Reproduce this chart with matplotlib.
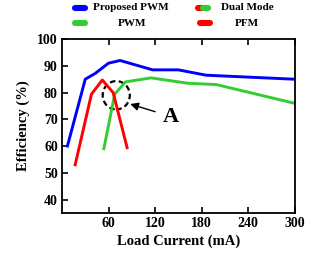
import matplotlib
matplotlib.use("Agg")
import matplotlib.pyplot as plt
from matplotlib.patches import Ellipse
from matplotlib.lines import Line2D

# Data
prop_x = [7, 30, 43, 60, 75, 117, 150, 186, 300]
prop_y = [60, 85, 87.2, 91, 92, 88.5, 88.5, 86.5, 85]
pwm_x = [54, 68, 82, 115, 162, 199, 300]
pwm_y = [59, 79.4, 84, 85.5, 83.5, 83, 76]
pfm_x = [17, 38, 52, 66, 84]
pfm_y = [53, 79.4, 84.7, 80, 59.4]
xticks = [60, 120, 180, 240, 300]
yticks = [40, 50, 60, 70, 80, 90, 100]

plt.rcParams['font.family'] = ['Liberation Serif', 'DejaVu Serif']
plt.rcParams['font.weight'] = 'bold'

W, H = 310, 259
fig = plt.figure(figsize=(3.1, 2.59), dpi=100)
ax = fig.add_axes([0.2, 0.178, 0.75, 0.671])

blue = '#0000ff'
green = '#33cc33'
red = '#ff0000'
ax.plot(prop_x, prop_y, color=blue, lw=2.1)
ax.plot(pwm_x, pwm_y, color=green, lw=2.1)
ax.plot(pfm_x, pfm_y, color=red, lw=2.1)

ax.set_xlim(0, 300)
ax.set_ylim(35, 100)
ax.set_xticks(xticks)
ax.set_yticks(yticks)
ax.tick_params(direction='in', length=4, width=1.2, labelsize=10, top=True, pad=3)
for lab in ax.get_xticklabels() + ax.get_yticklabels():
    lab.set_fontweight('bold')
for s in ax.spines.values():
    s.set_linewidth(1.3)

ax.set_xlabel('Load Current (mA)', fontsize=10.5, fontweight='bold', labelpad=3)
ax.set_ylabel('Efficiency (%)', fontsize=10.5, fontweight='bold', labelpad=5)

# dashed ellipse annotation
ax.add_patch(Ellipse((70, 79), 35, 10.6, fill=False, ls=(0, (2.5, 1.5)), lw=1.6, color='black'))
ax.annotate('A', xy=(88, 75.7), xytext=(141, 71), fontsize=16, fontweight='bold',
            ha='center', va='center',
            arrowprops=dict(arrowstyle='-|>', color='black', lw=1, mutation_scale=12,
                            shrinkA=4, shrinkB=0))

# custom legend (pill markers)
def pill(xc, yc, colors):
    half = 5
    if len(colors) == 1:
        segs = [(xc - half, xc + half, colors[0])]
    else:
        segs = [(xc - half, xc, colors[0]), (xc, xc + half, colors[1])]
    for x0, x1, c in segs:
        fig.add_artist(Line2D([x0 / W, x1 / W], [1 - yc / H, 1 - yc / H], transform=fig.transFigure,
                              color=c, lw=4.4, solid_capstyle='round'))

pill(80, 8, [blue])
pill(80, 23, [green])
pill(203, 8, [red, green])
pill(205, 23, [red])
fs = 8
fig.text(93 / W, 1 - 8 / H, 'Proposed PWM', fontsize=fs, fontweight='bold', ha='left', va='center')
fig.text(132 / W, 1 - 23 / H, 'PWM', fontsize=fs, fontweight='bold', ha='center', va='center')
fig.text(221 / W, 1 - 8 / H, 'Dual Mode', fontsize=fs, fontweight='bold', ha='left', va='center')
fig.text(247 / W, 1 - 23 / H, 'PFM', fontsize=fs, fontweight='bold', ha='center', va='center')

fig.savefig('out.png', dpi=100)
